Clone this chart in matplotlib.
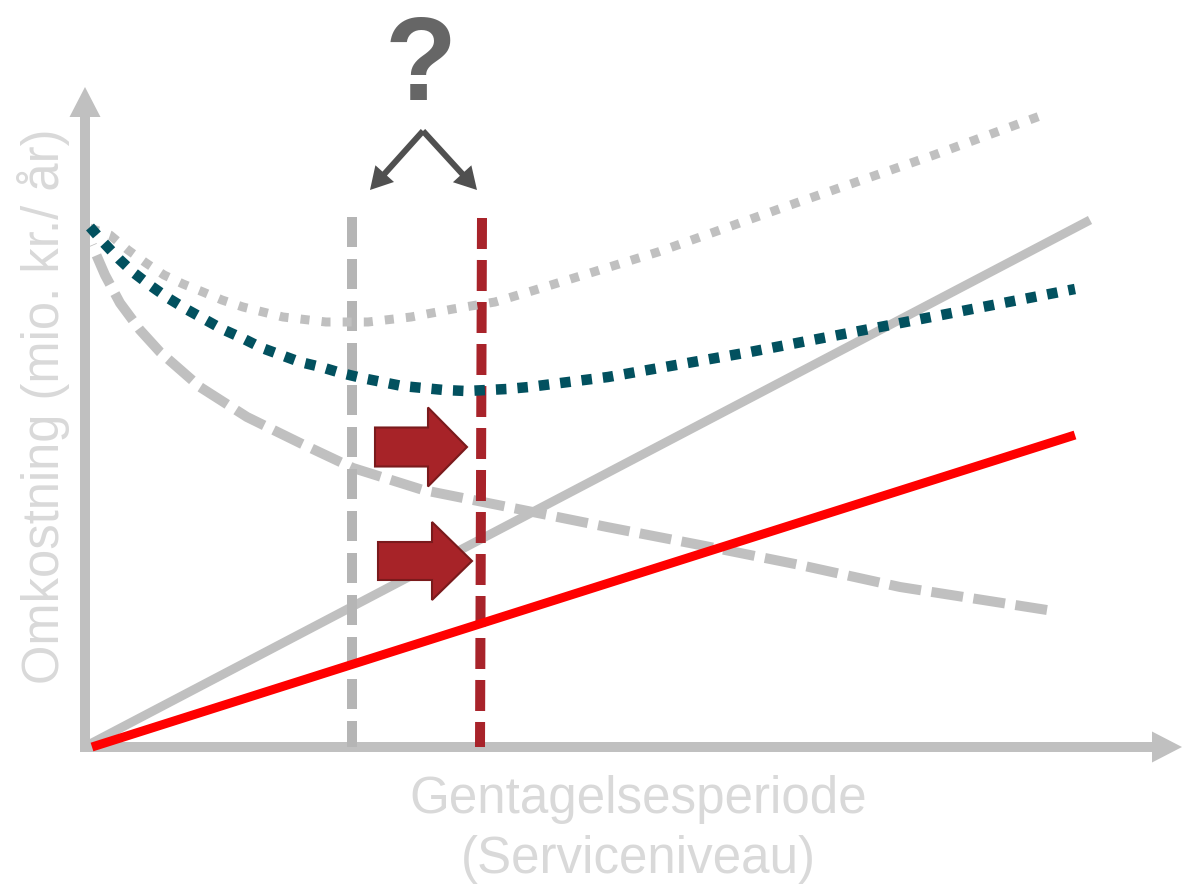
import matplotlib
matplotlib.use("Agg")
import matplotlib.pyplot as plt
import numpy as np
from matplotlib.patches import FancyArrow

# Conceptual cost curves (service level on x, annual cost on y)
invest_old_x = [5, 1005]
invest_old_y = [3, 527]

invest_new_x = [7, 990]
invest_new_y = [0, 312]

damage_x = [7, 20, 35, 55, 75, 115, 162, 215, 268, 338, 428, 522, 615, 715, 815, 962]
damage_y = [502, 472, 444, 417, 395, 360, 330, 304, 279, 257, 239, 220, 202, 182, 160, 137]

total_old_x = [5, 25, 43, 61, 79, 98, 118, 137, 158, 198, 241, 283, 326, 368, 410, 450,
               573, 711, 849, 955]
total_old_y = [519, 512, 497, 484, 472, 463, 455, 447, 440, 430, 425, 425, 430, 438, 445, 457,
               495, 544, 592, 631]

total_new_x = [5, 19, 34, 49, 66, 83, 101, 119, 137, 157, 177, 196, 215, 236, 256, 277, 297,
               317, 338, 359, 381, 402, 422, 444, 523, 665, 795, 990]
total_new_y = [520, 504, 488, 474, 461, 449, 438, 428, 418, 409, 399, 392, 385, 380, 374, 369,
               365, 361, 359, 357, 356, 357, 358, 360, 370, 395, 420, 458]

# Optimum service levels (old and new)
optimum_old_x = [267, 267]
optimum_old_y = [530, 0]
optimum_new_x = [397, 395]
optimum_new_y = [529, 0]

x_label = ["Gentagelsesperiode", "(Serviceniveau)"]
y_label = "Omkostning (mio. kr./ år)"

GRAY = "#c0c0c0"
TEXT_GRAY = "#d9d9d9"
TEAL = "#02515f"
DARK_RED = "#a8232a"

PX = 72 / 100  # points per pixel at dpi 100

fig = plt.figure(figsize=(11.82, 8.86), dpi=100)
ax = fig.add_axes([0, 0, 1, 1])
ax.set_xlim(-85, 1097)
ax.set_ylim(-139, 747)
ax.axis("off")

# axes with arrowheads
ax.add_patch(FancyArrow(0, -5, 0, 665, width=10, head_width=31, head_length=30,
                        length_includes_head=True, color=GRAY, lw=0, zorder=1))
ax.add_patch(FancyArrow(-5, 0, 1102, 0, width=10, head_width=31, head_length=30,
                        length_includes_head=True, color=GRAY, lw=0, zorder=1))

# damage cost curve; dash offset chosen so the curve ends on a full dash
dash_on, dash_off = 3.2, 1.05
seg = np.hypot(np.diff(damage_x), np.diff(damage_y)).sum() / 10.0
offset = (dash_on - seg) % (dash_on + dash_off)
ax.plot(damage_x, damage_y, color=GRAY, lw=10 * PX, ls=(offset, (dash_on, dash_off)),
        dash_capstyle="butt", zorder=2)
# investment cost, old
ax.plot(invest_old_x, invest_old_y, color=GRAY, lw=9 * PX, solid_capstyle="butt", zorder=3)

# optimum markers
ax.plot(optimum_old_x, optimum_old_y, color="#b5b5b5", lw=10 * PX, ls=(0, (3.0, 1.2)),
        dash_capstyle="butt", zorder=4)
ax.plot(optimum_new_x, optimum_new_y, color=DARK_RED, lw=10 * PX, ls=(0, (3.1, 1.1)),
        dash_capstyle="butt", zorder=4)

# investment cost, new
ax.plot(invest_new_x, invest_new_y, color="#ff0000", lw=9 * PX, solid_capstyle="butt", zorder=5)

# total cost curves
ax.plot(total_old_x, total_old_y, color=GRAY, lw=9 * PX, ls=(0, (1, 1.35)),
        dash_capstyle="butt", zorder=6)
ax.plot(total_new_x, total_new_y, color=TEAL, lw=10.5 * PX, ls=(0, (1, 1.05)),
        dash_capstyle="butt", zorder=6)

# shift arrows
for (x0, y0, dx, w, hw, hl) in [(290, 300, 92, 39, 79, 39), (293, 186, 94, 38, 78, 40)]:
    ax.add_patch(FancyArrow(x0, y0, dx, 0, width=w, head_width=hw, head_length=hl,
                            length_includes_head=True, facecolor="#a72328",
                            edgecolor="#7a1a1c", lw=1.5, zorder=7))

# question and pointers
ax.text(336, 647, "?", fontsize=85, fontweight="bold", color="#666666",
        family="Liberation Sans", ha="center", va="baseline")
for tx in (285, 392):
    ax.add_patch(FancyArrow(338, 616, tx - 338, 557 - 616, width=6, head_width=25,
                            head_length=22, length_includes_head=True,
                            color="#505050", lw=0, zorder=8))

# axis titles
ax.text(553, -66, x_label[0], fontsize=36.8, color=TEXT_GRAY, family="Liberation Sans",
        ha="center", va="baseline")
ax.text(553, -126, x_label[1], fontsize=36.8, color=TEXT_GRAY, family="Liberation Sans",
        ha="center", va="baseline")
ax.text(-26, 341, y_label, fontsize=36.5, color=TEXT_GRAY, family="Liberation Sans",
        rotation=90, rotation_mode="anchor", ha="center", va="baseline")

fig.savefig("out.png", dpi=100)
